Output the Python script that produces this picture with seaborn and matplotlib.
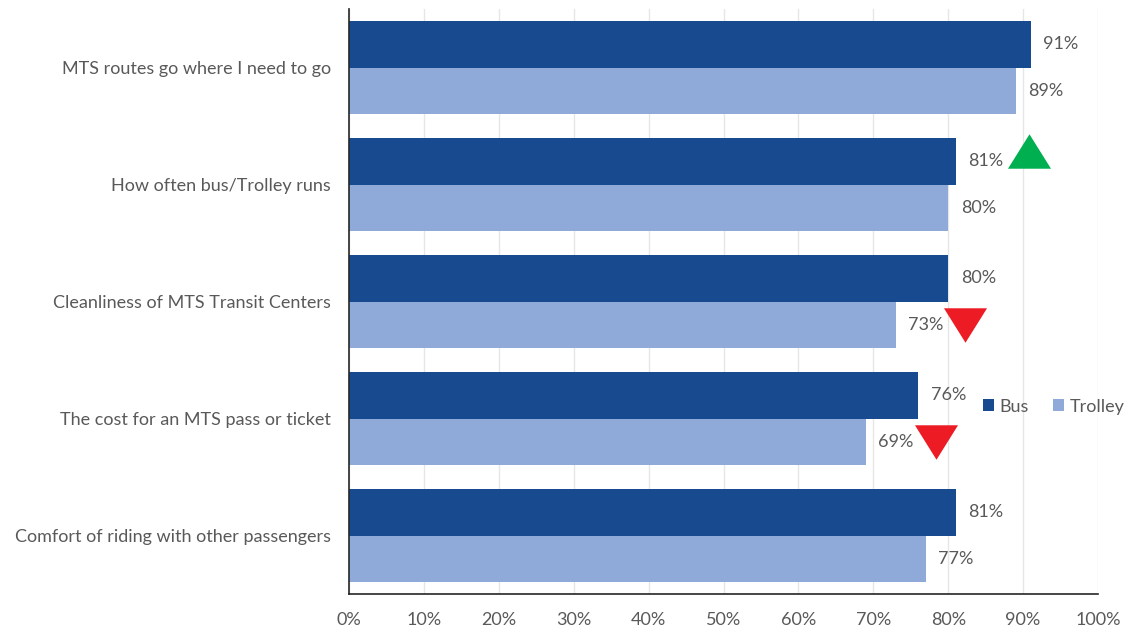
import matplotlib
matplotlib.use("Agg")
import matplotlib.pyplot as plt
import seaborn as sns
import pandas as pd

categories = [
    "MTS routes go where I need to go",
    "How often bus/Trolley runs",
    "Cleanliness of MTS Transit Centers",
    "The cost for an MTS pass or ticket",
    "Comfort of riding with other passengers",
]
bus = [91, 81, 80, 76, 81]
trolley = [89, 80, 73, 69, 77]
series = ["Bus", "Trolley"]
colors = ["#174A8F", "#8FA9D9"]

# change indicators: (category index, series, x position %, direction)
ind_cat = [1, 2, 3]
ind_series = ["Bus", "Trolley", "Trolley"]
ind_x = [90.8, 82.2, 78.4]
ind_dir = ["up", "down", "down"]

ticks = list(range(0, 101, 10))
tick_labels = [f"{t}%" for t in ticks]

sns.set_theme(style="white")
plt.rcParams["font.family"] = ["Lato", "DejaVu Sans"]
text_color = "#595959"
fs = 13

df = pd.DataFrame({
    "category": categories * 2,
    "series": ["Bus"] * len(categories) + ["Trolley"] * len(categories),
    "value": bus + trolley,
})

fig = plt.figure(figsize=(11.27, 6.33), dpi=100)
ax = fig.add_axes([349 / 1127, 1 - 594 / 633, (1098 - 349) / 1127, (594 - 9) / 633])

sns.barplot(data=df, y="category", x="value", hue="series", hue_order=series,
            palette=colors, order=categories, orient="h", width=0.8,
            saturation=1, ax=ax, edgecolor="none", linewidth=0)

ax.set_xlim(0, 100)
ax.set_ylim(len(categories) - 0.5, -0.5)
ax.set_xticks(ticks)
ax.set_xticklabels(tick_labels, color=text_color, fontsize=fs)
ax.tick_params(axis="y", labelsize=fs, labelcolor=text_color, pad=13, length=0)
ax.tick_params(axis="x", pad=13, length=0)
ax.set_xlabel("")
ax.set_ylabel("")
ax.grid(axis="x", color="#E6E6E6", linewidth=1)
ax.set_axisbelow(True)
for s in ["top", "right"]:
    ax.spines[s].set_visible(False)
for s in ["left", "bottom"]:
    ax.spines[s].set_color("#262626")
    ax.spines[s].set_linewidth(1.2)

for cont in ax.containers:
    ax.bar_label(cont, labels=[f"{v:.0f}%" for v in cont.datavalues],
                 padding=9, color=text_color, fontsize=fs)

offsets = {"Bus": -0.2, "Trolley": 0.2}
up = [(-1, -0.8), (1, -0.8), (0, 0.8), (-1, -0.8)]
down = [(-1, 0.8), (1, 0.8), (0, -0.8), (-1, 0.8)]
for c, s, x, d in zip(ind_cat, ind_series, ind_x, ind_dir):
    y = c + offsets[s] + (-0.09 if d == "up" else 0.0)
    if d == "up":
        ax.scatter([x], [y], marker=up, s=(31) ** 2, color="#00B050", zorder=5, linewidths=0)
    else:
        ax.scatter([x], [y], marker=down, s=(31) ** 2, color="#ED1C24", zorder=5, linewidths=0)

leg = ax.legend(loc="center left", bbox_to_anchor=(0.846, 0.32), ncol=2, frameon=False,
                fontsize=fs, handlelength=0.65, handleheight=0.65, handletextpad=0.3,
                columnspacing=1.3, labelcolor=text_color, borderaxespad=0, borderpad=0)

fig.savefig("out.png", dpi=100)
